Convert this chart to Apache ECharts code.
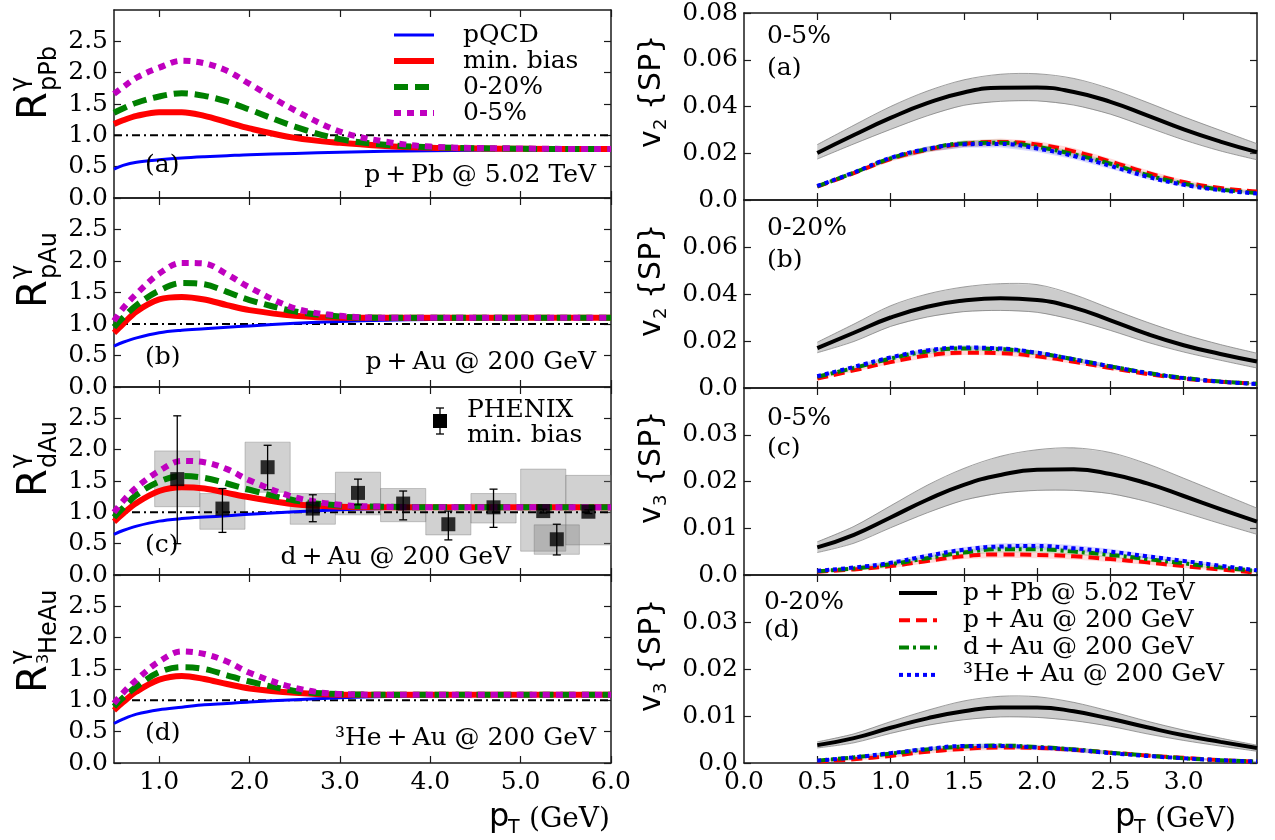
<!DOCTYPE html>
<html><head><meta charset="utf-8">
<script src="https://cdn.jsdelivr.net/npm/echarts@6/dist/echarts.min.js"></script>
<style>html,body{margin:0;padding:0;background:#fff}#c{width:1275px;height:840px}</style>
</head><body><div id="c"></div>
<script>
// ---------------- data: left column (R_γ vs pT) ----------------
const ptL = [0.5,0.6,0.75,1.0,1.25,1.5,1.75,2.0,2.5,3.0,3.5,4.0,5.0,6.0];
// (a) p+Pb
const pqcdA = [0.46,0.52,0.57,0.61,0.64,0.66,0.675,0.69,0.71,0.73,0.745,0.755,0.77,0.78];
const mbA   = [1.18,1.24,1.31,1.37,1.37,1.31,1.21,1.11,0.96,0.88,0.83,0.80,0.785,0.78];
const c20A  = [1.36,1.43,1.52,1.62,1.67,1.63,1.54,1.41,1.14,0.94,0.85,0.81,0.785,0.78];
const c5A   = [1.66,1.77,1.92,2.08,2.19,2.15,2.03,1.82,1.40,1.06,0.90,0.82,0.79,0.78];
// (b) p+Au
const pqcdB = [0.65,0.71,0.78,0.86,0.90,0.925,0.95,0.97,1.01,1.04,1.06,1.07,1.085,1.09];
const mbB   = [0.86,1.00,1.20,1.39,1.43,1.39,1.30,1.22,1.13,1.10,1.10,1.10,1.10,1.10];
const c20B  = [0.95,1.10,1.30,1.53,1.65,1.63,1.51,1.38,1.20,1.12,1.10,1.10,1.10,1.10];
const c5B   = [1.05,1.25,1.48,1.80,1.97,1.96,1.79,1.58,1.25,1.13,1.10,1.10,1.10,1.10];
// (c) d+Au
const pqcdC = [0.65,0.71,0.78,0.86,0.90,0.925,0.945,0.97,1.01,1.04,1.06,1.07,1.08,1.08];
const mbC   = [0.85,0.98,1.15,1.34,1.40,1.38,1.31,1.24,1.13,1.09,1.08,1.08,1.08,1.08];
const c20C  = [0.92,1.07,1.28,1.49,1.58,1.55,1.46,1.36,1.19,1.11,1.09,1.08,1.08,1.08];
const c5C   = [1.00,1.18,1.40,1.66,1.82,1.80,1.69,1.51,1.24,1.12,1.09,1.08,1.08,1.08];
// (d) 3He+Au
const pqcdD = [0.63,0.70,0.78,0.85,0.89,0.93,0.95,0.975,1.01,1.04,1.06,1.07,1.08,1.09];
const mbD   = [0.84,0.97,1.14,1.33,1.39,1.34,1.26,1.19,1.12,1.09,1.09,1.09,1.09,1.09];
const c20D  = [0.90,1.04,1.22,1.45,1.53,1.50,1.40,1.30,1.15,1.10,1.09,1.09,1.09,1.09];
const c5D   = [0.95,1.12,1.33,1.62,1.78,1.74,1.62,1.44,1.20,1.10,1.09,1.09,1.09,1.09];
// reference line R = 1
const refX = [0.5,6.0];
const refY = [1.0,1.0];
// PHENIX d+Au min. bias data
const phxPt     = [1.2,1.7,2.2,2.7,3.2,3.7,4.2,4.7,5.25,5.4,5.75];
const phxVal    = [1.53,1.06,1.72,1.06,1.31,1.14,0.81,1.08,1.02,0.57,1.01];
const phxStatLo = [0.50,0.68,1.36,0.85,1.12,0.88,0.56,0.76,0.99,0.32,0.98];
const phxStatHi = [2.54,1.38,2.07,1.28,1.53,1.34,1.02,1.37,1.05,0.81,1.04];
const phxSysLo  = [1.09,0.73,1.32,0.81,0.96,0.85,0.64,0.83,0.38,0.33,0.48];
const phxSysHi  = [1.98,1.30,2.12,1.30,1.64,1.38,1.01,1.30,1.69,0.80,1.59];
const phxHalfBin= [0.25,0.25,0.25,0.25,0.25,0.25,0.25,0.25,0.25,0.25,0.25];

// ---------------- data: right column (v_n{SP} vs pT) ----------------
const ptR = [0.5,0.75,1.0,1.25,1.5,1.75,2.0,2.25,2.5,2.75,3.0,3.25,3.5];
// (a) v2 0-5%
const v2a_pPb   = [0.0201,0.0278,0.0351,0.0414,0.0460,0.0480,0.0481,0.0462,0.0420,0.0362,0.0302,0.0250,0.0205];
const v2a_pPbHi = [0.0237,0.0320,0.0400,0.0466,0.0514,0.0538,0.0540,0.0520,0.0476,0.0418,0.0356,0.0298,0.0241];
const v2a_pPbLo = [0.0175,0.0240,0.0302,0.0360,0.0405,0.0422,0.0424,0.0406,0.0367,0.0312,0.0257,0.0210,0.0172];
const v2a_pAu   = [0.0057,0.0115,0.0175,0.0215,0.0240,0.0248,0.0237,0.0208,0.0165,0.0117,0.0077,0.0051,0.0036];
const v2a_dAu   = [0.0058,0.0117,0.0178,0.0217,0.0242,0.0245,0.0227,0.0195,0.0155,0.0107,0.0070,0.0045,0.0030];
const v2a_HeAu  = [0.0060,0.0118,0.0180,0.0218,0.0238,0.0240,0.0220,0.0188,0.0146,0.0100,0.0065,0.0042,0.0028];
const v2a_err   = [0.0005,0.0008,0.0010,0.0012,0.0014,0.0015,0.0015,0.0014,0.0013,0.0011,0.0009,0.0007,0.0006];
// (b) v2 0-20%
const v2b_pPb   = [0.0170,0.0235,0.0300,0.0346,0.0372,0.0382,0.0374,0.0342,0.0288,0.0230,0.0182,0.0145,0.0113];
const v2b_pPbHi = [0.0195,0.0272,0.0350,0.0400,0.0430,0.0444,0.0440,0.0398,0.0338,0.0280,0.0228,0.0185,0.0148];
const v2b_pPbLo = [0.0150,0.0198,0.0262,0.0302,0.0325,0.0330,0.0322,0.0290,0.0245,0.0195,0.0153,0.0118,0.0085];
const v2b_pAu   = [0.0040,0.0075,0.0110,0.0138,0.0150,0.0148,0.0135,0.0112,0.0085,0.0060,0.0040,0.0027,0.0018];
const v2b_dAu   = [0.0048,0.0085,0.0125,0.0155,0.0168,0.0165,0.0148,0.0122,0.0092,0.0065,0.0043,0.0028,0.0018];
const v2b_HeAu  = [0.0050,0.0090,0.0130,0.0160,0.0172,0.0168,0.0150,0.0122,0.0092,0.0064,0.0042,0.0027,0.0017];
const v2b_err   = [0.0004,0.0006,0.0008,0.0010,0.0010,0.0010,0.0010,0.0009,0.0008,0.0006,0.0005,0.0004,0.0003];
// (c) v3 0-5%
const v3c_pPb   = [0.0059,0.0086,0.0123,0.0161,0.0193,0.0214,0.0225,0.0226,0.0216,0.0196,0.0169,0.0141,0.0114];
const v3c_pPbHi = [0.0071,0.0104,0.0148,0.0192,0.0228,0.0254,0.0268,0.0272,0.0262,0.0238,0.0207,0.0175,0.0143];
const v3c_pPbLo = [0.0048,0.0068,0.0101,0.0133,0.0160,0.0175,0.0181,0.0181,0.0174,0.0157,0.0134,0.0110,0.0087];
const v3c_pAu   = [0.0007,0.0012,0.0019,0.0030,0.0040,0.0044,0.0043,0.0040,0.0034,0.0027,0.0019,0.0012,0.0005];
const v3c_dAu   = [0.0008,0.0014,0.0023,0.0036,0.0048,0.0055,0.0055,0.0050,0.0043,0.0034,0.0025,0.0016,0.0009];
const v3c_HeAu  = [0.0009,0.0016,0.0026,0.0041,0.0054,0.0061,0.0062,0.0057,0.0050,0.0040,0.0030,0.0020,0.0010];
const v3c_err   = [0.0002,0.0003,0.0004,0.0005,0.0006,0.0007,0.0007,0.0007,0.0006,0.0005,0.0004,0.0003,0.0002];
// (d) v3 0-20%
const v3d_pPb   = [0.0038,0.0053,0.0075,0.0095,0.0110,0.0118,0.0118,0.0110,0.0094,0.0076,0.0059,0.0045,0.0032];
const v3d_pPbHi = [0.0045,0.0062,0.0088,0.0112,0.0132,0.0142,0.0141,0.0129,0.0110,0.0089,0.0070,0.0053,0.0038];
const v3d_pPbLo = [0.0032,0.0043,0.0063,0.0080,0.0092,0.0098,0.0097,0.0090,0.0078,0.0062,0.0048,0.0036,0.0025];
const v3d_pAu   = [0.0003,0.0008,0.0015,0.0024,0.0030,0.0033,0.0032,0.0028,0.0022,0.0016,0.0011,0.0006,0.0003];
const v3d_dAu   = [0.0005,0.0012,0.0020,0.0029,0.0035,0.0037,0.0034,0.0029,0.0022,0.0016,0.0010,0.0006,0.0003];
const v3d_HeAu  = [0.0005,0.0012,0.0021,0.0030,0.0036,0.0036,0.0033,0.0028,0.0021,0.0015,0.0010,0.0006,0.0003];
const v3d_err   = [0.0002,0.0003,0.0004,0.0004,0.0005,0.0005,0.0005,0.0005,0.0004,0.0003,0.0003,0.0002,0.0001];

// ---------------- tick values ----------------
const leftXTicks  = [1,2,3,4,5,6];
const leftYTicks  = [0,0.5,1.0,1.5,2.0,2.5];
const rightXTicks = [0,0.5,1.0,1.5,2.0,2.5,3.0];
const v2TicksTop  = [0,0.02,0.04,0.06,0.08];
const v2Ticks     = [0,0.02,0.04,0.06];
const v3Ticks     = [0,0.01,0.02,0.03];

// ---------------- layout ----------------
const SERIF = 'DejaVu Serif';
const SANS = 'DejaVu Sans';
const LT = [10,198,387,575], LB = [198,387,575,763];
const RT = [13,200,388,575], RB = [200,388,575,763];
const grids = [];
for (let i=0;i<4;i++) grids.push({left:114, top:LT[i], width:497, height:LB[i]-LT[i], containLabel:false, outerBoundsMode:'none'});
for (let i=0;i<4;i++) grids.push({left:744, top:RT[i], width:513, height:RB[i]-RT[i], containLabel:false, outerBoundsMode:'none'});

const AX = {color:'#1a1a1a', width:1.5};
const labStyle = {fontFamily:SERIF, fontSize:25, color:'#000'};
function axisPair(dim, g, min, max, ticks, labels, fmt) {
  const base = {type:'value', gridIndex:g, min, max, scale:false,
    axisLine:{show:true, onZero:false, lineStyle:AX},
    splitLine:{show:false},
    axisTick:{show:true, inside:true, length:7, customValues:ticks, lineStyle:{color:'#1a1a1a', width:1.2}}};
  const main = Object.assign({}, base, {
    position: dim==='x' ? 'bottom' : 'left',
    axisLabel: labels ? Object.assign({show:true, customValues:labels, formatter:fmt, margin: dim==='x'?7:6}, labStyle) : {show:false}
  });
  const sec = Object.assign({}, base, {position: dim==='x' ? 'top' : 'right', axisLabel:{show:false}});
  return [main, sec];
}
const f1 = v => v.toFixed(1);
const fR = v => (Math.abs(v) < 1e-9 ? '0.0' : v.toFixed(2));

const xAxes = [], yAxes = [];
for (let g=0; g<4; g++) {
  xAxes.push(...axisPair('x', g, 0.5, 6.0, leftXTicks, g===3 ? leftXTicks : null, f1));
  yAxes.push(...axisPair('y', g, 0, 3.0, leftYTicks, leftYTicks, f1));
}
const rightY = [[0,0.08,v2TicksTop],[0,0.08,v2Ticks],[0,0.04,v3Ticks],[0,0.04,v3Ticks]];
for (let k=0; k<4; k++) {
  const g = 4+k;
  xAxes.push(...axisPair('x', g, 0, 3.5, rightXTicks.slice(1), k===3 ? rightXTicks : null, f1));
  yAxes.push(...axisPair('y', g, rightY[k][0], rightY[k][1], rightY[k][2], rightY[k][2], fR));
}

// ---------------- series helpers ----------------
const zip = (xs, ys) => xs.map((x,i)=>[x, ys[i]]);
function line(g, xs, ys, color, width, dash, z, smooth) {
  return {type:'line', xAxisIndex:2*g, yAxisIndex:2*g, data:zip(xs,ys), showSymbol:false, symbol:'none',
    smooth: smooth===undefined ? 0.35 : smooth, silent:true, z:z||3, animation:false, clip:true,
    lineStyle:{color, width, type: dash || 'solid', cap:'butt', join:'round'}};
}
function band(g, xs, lo, hi, fill, stroke) {
  return {type:'custom', xAxisIndex:2*g, yAxisIndex:2*g, silent:true, z:2, animation:false, clip:true,
    data:[[xs[0], lo[0]]],
    renderItem(params, api) {
      const up = xs.map((x,i)=>api.coord([x, hi[i]]));
      const dn = xs.map((x,i)=>api.coord([x, lo[i]])).reverse();
      return {type:'group', children:[
        {type:'polygon', shape:{points:up.concat(dn)}, style:{fill, stroke:null, lineWidth:0}},
        {type:'polyline', shape:{points:up, smooth:0.3}, style:{fill:null, stroke: stroke||'none', lineWidth: stroke?1:0}},
        {type:'polyline', shape:{points:dn, smooth:0.3}, style:{fill:null, stroke: stroke||'none', lineWidth: stroke?1:0}}
      ]};
    }};
}
const plus = (a,b)=>a.map((v,i)=>v+b[i]);
const minus = (a,b)=>a.map((v,i)=>v-b[i]);

const BLUE='#0000ff', RED='#ff0000', GREEN='#008000', MAG='#bf00bf';
const DASH_G=[14,7], DASH_M=[7,6], DASH_REF=[8,4,2,4];
const series = [];
const leftSets = [[pqcdA,mbA,c20A,c5A],[pqcdB,mbB,c20B,c5B],[pqcdC,mbC,c20C,c5C],[pqcdD,mbD,c20D,c5D]];
leftSets.forEach((s,g)=>{
  series.push(line(g, refX, refY, '#000', 2, DASH_REF, 2, false));
  series.push(line(g, ptL, s[0], BLUE, 3, 'solid', 3));
  series.push(line(g, ptL, s[1], RED, 6, 'solid', 4));
  series.push(line(g, ptL, s[2], GREEN, 6, DASH_G, 5));
  series.push(line(g, ptL, s[3], MAG, 6, DASH_M, 6));
});
// PHENIX systematic boxes
series.push({type:'custom', xAxisIndex:4, yAxisIndex:4, silent:true, z:1, animation:false,
  data: phxPt.map((x,i)=>[x, phxSysLo[i], phxSysHi[i], phxHalfBin[i]]),
  renderItem(params, api){
    const x=api.value(0), lo=api.value(1), hi=api.value(2), h=api.value(3);
    const a=api.coord([x-h, hi]), b=api.coord([x+h, lo]);
    return {type:'rect', shape:{x:a[0], y:a[1], width:b[0]-a[0], height:b[1]-a[1]},
      style:{fill:'rgba(128,128,128,0.36)', stroke:'rgba(110,110,110,0.35)', lineWidth:1}};
  }});
// PHENIX stat error bars
series.push({type:'custom', xAxisIndex:4, yAxisIndex:4, silent:true, z:7, animation:false,
  data: phxPt.map((x,i)=>[x, phxStatLo[i], phxStatHi[i]]),
  renderItem(params, api){
    const x=api.value(0), a=api.coord([x, api.value(1)]), b=api.coord([x, api.value(2)]);
    const st={stroke:'#000', lineWidth:1.3};
    return {type:'group', children:[
      {type:'line', shape:{x1:a[0],y1:a[1],x2:b[0],y2:b[1]}, style:st},
      {type:'line', shape:{x1:a[0]-4,y1:a[1],x2:a[0]+4,y2:a[1]}, style:st},
      {type:'line', shape:{x1:b[0]-4,y1:b[1],x2:b[0]+4,y2:b[1]}, style:st}]};
  }});
series.push({type:'scatter', xAxisIndex:4, yAxisIndex:4, data:zip(phxPt, phxVal), symbol:'rect', symbolSize:14,
  itemStyle:{color:'#000'}, z:8, silent:true, animation:false});

// right column
const rightSets = [
  [v2a_pPb,v2a_pPbLo,v2a_pPbHi,v2a_pAu,v2a_dAu,v2a_HeAu,v2a_err],
  [v2b_pPb,v2b_pPbLo,v2b_pPbHi,v2b_pAu,v2b_dAu,v2b_HeAu,v2b_err],
  [v3c_pPb,v3c_pPbLo,v3c_pPbHi,v3c_pAu,v3c_dAu,v3c_HeAu,v3c_err],
  [v3d_pPb,v3d_pPbLo,v3d_pPbHi,v3d_pAu,v3d_dAu,v3d_HeAu,v3d_err]];
const DASH_R=[11,6], DASH_GD=[10,4,3,4], DASH_B=[4,4];
rightSets.forEach((s,k)=>{
  const g=4+k;
  series.push(band(g, ptR, s[1], s[2], 'rgba(128,128,128,0.4)', 'rgba(120,120,120,0.7)'));
  series.push(band(g, ptR, minus(s[3],s[6]), plus(s[3],s[6]), 'rgba(255,0,0,0.15)'));
  series.push(band(g, ptR, minus(s[4],s[6]), plus(s[4],s[6]), 'rgba(0,128,0,0.15)'));
  series.push(band(g, ptR, minus(s[5],s[6]), plus(s[5],s[6]), 'rgba(0,0,255,0.15)'));
  series.push(line(g, ptR, s[0], '#000', 4, 'solid', 3, 0.5));
  series.push(line(g, ptR, s[3], RED, 4, DASH_R, 4, 0.5));
  series.push(line(g, ptR, s[4], GREEN, 4, DASH_GD, 5, 0.5));
  series.push(line(g, ptR, s[5], BLUE, 4, DASH_B, 6, 0.5));
});

// ---------------- graphic texts / legends ----------------
const G = [];
function txt(x, y, text, size, align, family) {
  G.push({type:'text', x, y, silent:true, z:100, style:{text, font: size+'px "'+(family||SERIF)+'"', fill:'#000', align:align||'left', verticalAlign:'middle'}});
}
function seg(x1,y1,x2,y2,color,w,dash){
  G.push({type:'line', silent:true, z:100, shape:{x1,y1,x2,y2}, style:{stroke:color, lineWidth:w, lineDash:dash||null, lineCap:'butt'}});
}
// left annotations
txt(145,165,'(a)',25); txt(596,175,'p\u2009+\u2009Pb @ 5.02 TeV',25,'right');
txt(145,357,'(b)',25); txt(596,362,'p\u2009+\u2009Au @ 200 GeV',25,'right');
txt(145,545,'(c)',25); txt(511,557,'d\u2009+\u2009Au @ 200 GeV',25,'right');
txt(145,733,'(d)',25); txt(596,738,'\u00b3He\u2009+\u2009Au @ 200 GeV',25,'right');
// left legend
const legL = [['pQCD',BLUE,3,null],['min. bias',RED,6,null],['0-20%',GREEN,6,DASH_G],['0-5%',MAG,6,DASH_M]];
legL.forEach((e,i)=>{ const y=35+26*i; seg(394,y,434,y,e[1],e[2],e[3]); txt(463,y,e[0],25); });
// PHENIX legend
seg(440,408,440,434,'#000',1.3); seg(436,408,444,408,'#000',1.3); seg(436,434,444,434,'#000',1.3);
G.push({type:'rect', silent:true, z:101, shape:{x:433,y:414,width:14,height:14}, style:{fill:'#000'}});
txt(467,410,'PHENIX',25); txt(467,435,'min. bias',25);
// right annotations
txt(767,36,'0-5%',25);  txt(767,68,'(a)',25);
txt(767,228,'0-20%',25); txt(767,260,'(b)',25);
txt(767,418,'0-5%',25); txt(767,448,'(c)',25);
txt(764,602,'0-20%',25); txt(764,630,'(d)',25);
// right legend
const legR = [['p\u2009+\u2009Pb @ 5.02 TeV','#000',4,null],['p\u2009+\u2009Au @ 200 GeV',RED,4,DASH_R],['d\u2009+\u2009Au @ 200 GeV',GREEN,4,DASH_GD],['\u00b3He\u2009+\u2009Au @ 200 GeV',BLUE,4,DASH_B]];
legR.forEach((e,i)=>{ const y=593+27.3*i; seg(899,y,937,y,e[1],e[2],e[3]); txt(963,y,e[0],25); });

// rotated y-axis titles, left: R^γ_sub
function rLabel(cy, sub, subSize) {
  G.push({type:'group', x:36, y:cy+16, rotation:Math.PI/2, silent:true, z:100, children:[
    {type:'text', x:0, y:0, style:{text:'R', font:'40px "'+SANS+'"', fill:'#000', align:'left', verticalAlign:'middle'}},
    {type:'text', x:29, y:-15, style:{text:'\u03b3', font:'24px "'+SANS+'"', fill:'#000', align:'left', verticalAlign:'middle'}},
    {type:'text', x:29, y:14, style:{text:sub, font:(subSize||24)+'px "'+SANS+'"', fill:'#000', align:'left', verticalAlign:'middle'}}
  ]});
}
rLabel(104,'pPb'); rLabel(292,'pAu'); rLabel(481,'dAu');
// 3HeAu
G.push({type:'group', x:36, y:669+24, rotation:Math.PI/2, silent:true, z:100, children:[
  {type:'text', x:0, y:0, style:{text:'R', font:'40px "'+SANS+'"', fill:'#000', align:'left', verticalAlign:'middle'}},
  {type:'text', x:29, y:-15, style:{text:'\u03b3', font:'24px "'+SANS+'"', fill:'#000', align:'left', verticalAlign:'middle'}},
  {type:'text', x:29, y:8, style:{text:'3', font:'16px "'+SANS+'"', fill:'#000', align:'left', verticalAlign:'middle'}},
  {type:'text', x:39, y:14, style:{text:'HeAu', font:'24px "'+SANS+'"', fill:'#000', align:'left', verticalAlign:'middle'}}
]});
// right: v_n {SP}
function vLabel(cy, n) {
  G.push({type:'group', x:652, y:cy, rotation:Math.PI/2, silent:true, z:100, children:[
    {type:'text', x:-52, y:0, style:{text:'v', font:'30px "'+SANS+'"', fill:'#000', align:'left', verticalAlign:'middle'}},
    {type:'text', x:-34, y:9, style:{text:n, font:'18px "'+SANS+'"', fill:'#000', align:'left', verticalAlign:'middle'}},
    {type:'text', x:-14, y:0, style:{text:'{SP}', font:'30px "'+SANS+'"', fill:'#000', align:'left', verticalAlign:'middle'}}
  ]});
}
vLabel(96,'2'); vLabel(285,'2'); vLabel(472,'3'); vLabel(660,'3');
// x-axis titles p_T (GeV)
function ptTitle(x0) {
  G.push({type:'text', x:x0, y:818, silent:true, style:{text:'p', font:'32px "'+SANS+'"', fill:'#000', align:'left', verticalAlign:'middle'}});
  G.push({type:'text', x:x0+19, y:828, silent:true, style:{text:'T', font:'19px "'+SANS+'"', fill:'#000', align:'left', verticalAlign:'middle'}});
  G.push({type:'text', x:x0+40, y:820, silent:true, style:{text:'(GeV)', font:'28px "'+SERIF+'"', fill:'#000', align:'left', verticalAlign:'middle'}});
}
ptTitle(489); ptTitle(1115);

const chart = echarts.init(document.getElementById('c'), null, {renderer:'canvas', width:1275, height:840});
chart.setOption({
  animation:false,
  backgroundColor:'#fff',
  grid: grids,
  xAxis: xAxes,
  yAxis: yAxes,
  series: series,
  graphic: G
});
</script></body></html>
